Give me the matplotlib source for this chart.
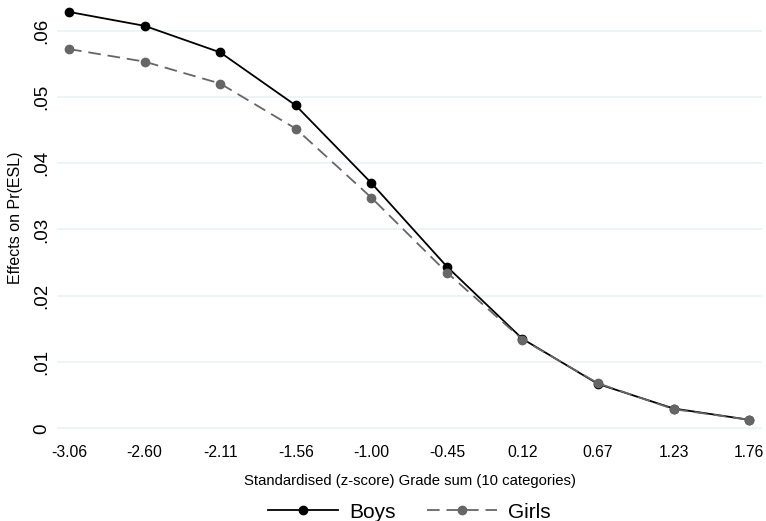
import matplotlib.pyplot as plt
import numpy as np

# ============================================================
# Data
# ============================================================
grade_labels = ["-3.06", "-2.60", "-2.11", "-1.56", "-1.00",
                "-0.45", "0.12", "0.67", "1.23", "1.76"]
boys = [0.0628, 0.0607, 0.0567, 0.0487, 0.0370,
        0.0244, 0.0135, 0.0067, 0.0030, 0.0013]
girls = [0.0572, 0.0553, 0.0520, 0.0452, 0.0348,
         0.0235, 0.0134, 0.0068, 0.0029, 0.0013]
y_ticks = [0, 0.01, 0.02, 0.03, 0.04, 0.05, 0.06]
y_ticklabels = ["0", ".01", ".02", ".03", ".04", ".05", ".06"]

plt.rcParams["font.family"] = ["Liberation Sans", "DejaVu Sans"]

# ============================================================
# Figure
# ============================================================
fig = plt.figure(figsize=(7.66, 5.21), dpi=100, facecolor="white")
ax = fig.add_axes([0.0744, 0.165, 0.9204, 0.835])

x = np.arange(1, len(grade_labels) + 1)

ax.plot(x, boys, color="black", lw=1.3, marker="o", ms=6,
        label="Boys", zorder=2)
ax.plot(x, girls, color="#666666", lw=1.3, ls=(0, (7, 3.8)), marker="o",
        ms=6, label="Girls", zorder=3)

ax.set_xlim(0.84, 10.17)
ax.set_ylim(-0.001, 0.0646)
ax.set_xticks(x)
ax.set_xticklabels(grade_labels, fontsize=11.3)
ax.set_yticks(y_ticks)
ax.set_yticklabels(y_ticklabels, fontsize=13.5, rotation=90, va="center")
ax.tick_params(axis="x", length=0, pad=7)
ax.tick_params(axis="y", length=0, pad=5)

ax.grid(axis="y", color="#eaf2f3", lw=1.2)
ax.set_axisbelow(True)
for s in ax.spines.values():
    s.set_visible(False)

ax.set_xlabel("Standardised (z-score) Grade sum (10 categories)",
              fontsize=10.7, labelpad=10)
ax.set_ylabel("Effects on Pr(ESL)", fontsize=11.5, labelpad=7)

fig.legend(loc="lower center", ncol=2, frameon=False, fontsize=15,
           handlelength=3.4, handletextpad=0.5, columnspacing=1.5,
           bbox_to_anchor=(0.534, -0.037))

fig.savefig("out.png", dpi=100, facecolor="white")
